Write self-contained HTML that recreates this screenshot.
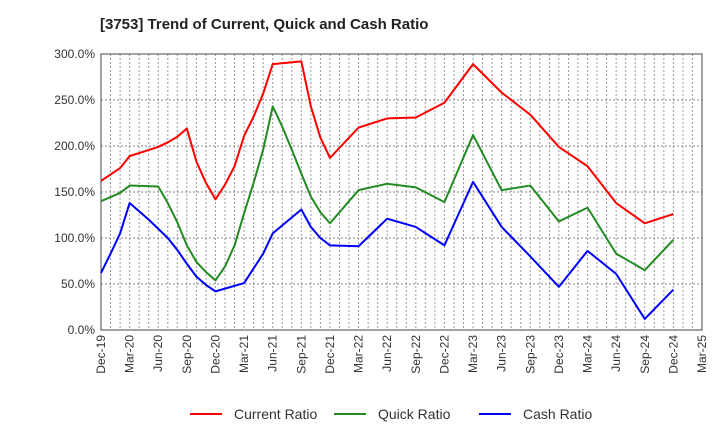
<!DOCTYPE html>
<html><head><meta charset="utf-8"><style>
body{margin:0;background:#fff;font-family:"Liberation Sans",sans-serif}
</style></head><body>
<svg id="chart" width="720" height="440" xmlns="http://www.w3.org/2000/svg" font-family="Liberation Sans, sans-serif">
<text x="100" y="29" font-size="15" font-weight="bold" fill="#222">[3753]  Trend of Current, Quick and Cash Ratio</text>
<g id="grid"></g><g id="axes"></g><g id="series"></g><g id="legend"></g>
</svg>
<script>
const xTickLabels=["Dec-19","Mar-20","Jun-20","Sep-20","Dec-20","Mar-21","Jun-21","Sep-21","Dec-21","Mar-22","Jun-22","Sep-22","Dec-22","Mar-23","Jun-23","Sep-23","Dec-23","Mar-24","Jun-24","Sep-24","Dec-24","Mar-25"];
const yTicks=[0,50,100,150,200,250,300];
const currentMonths=[0,2,3,6,7,8,9,10,11,12,13,14,15,16,17,18,21,22,23,24,27,30,33,36,39,42,45,48,51,54,57,60];
const currentValues=[162,176,189,199,204,210,219,183,160,142,158,178,211,232,257,289,292,243,209,187,220,230,231,247,289,258,234,199,178,138,116,126];
const quickMonths=[0,2,3,6,7,8,9,10,11,12,13,14,15,16,17,18,19,20,21,22,23,24,27,30,33,36,39,42,45,48,51,54,57,60];
const quickValues=[140,149,157,156,138,117,92,74,63,54,69,92,127,160,196,243,221,196,170,145,128,116,152,159,155,139,212,152,157,118,133,83,65,98];
const cashMonths=[0,1,2,3,5,7,8,9,10,11,12,15,17,18,21,22,23,24,27,30,33,36,39,42,45,48,51,54,57,60];
const cashValues=[62,83,105,138,120,100,87,72,58,49,42,51,83,105,131,112,100,92,91,121,112,92,161,112,80,47,86,61,12,44];
const L=101,R=702,T=54,B=330,NM=63;
const xs=m=>L+m*(R-L)/NM, ys=v=>B-v*(B-T)/300;
const NS="http://www.w3.org/2000/svg";
function mk(t,a,p){const e=document.createElementNS(NS,t);for(const k in a)e.setAttribute(k,a[k]);p.appendChild(e);return e;}
const grid=document.getElementById('grid'),axes=document.getElementById('axes'),ser=document.getElementById('series'),leg=document.getElementById('legend');
for(let m=1;m<NM;m++){const l=mk('line',{x1:xs(m),x2:xs(m),y1:T,y2:B,stroke:'#999','stroke-dasharray':'2,2','stroke-width':1},grid);

}
yTicks.forEach(v=>{if(v>0&&v<300){const l=mk('line',{x1:L,x2:R,y1:ys(v),y2:ys(v),stroke:'#888','stroke-dasharray':'2,2','stroke-width':1},grid);

}
const t=mk('text',{x:L-6,y:ys(v)+4,'text-anchor':'end','font-size':12,fill:'#333'},axes);t.textContent=v.toFixed(1)+'%';

});
const box=mk('rect',{x:L,y:T,width:R-L,height:B-T,fill:'none',stroke:'#444','stroke-width':1},axes);


xTickLabels.forEach((s,i)=>{const x=xs(i*3);const t=mk('text',{x:0,y:0,'text-anchor':'end','font-size':12,fill:'#333',transform:`translate(${x+4},${B+5}) rotate(-90)`},axes);t.textContent=s;

});
function line(ms,vs,c,name){const p=mk('polyline',{points:ms.map((m,i)=>xs(m)+','+ys(vs[i])).join(' '),fill:'none',stroke:c,'stroke-width':2,'stroke-linejoin':'round'},ser);

}
line(currentMonths,currentValues,'#ff0000','current-ratio-line');
line(quickMonths,quickValues,'#228b22','quick-ratio-line');
line(cashMonths,cashValues,'#0000ff','cash-ratio-line');
[["Current Ratio","#ff0000",190],["Quick Ratio","#228b22",334],["Cash Ratio","#0000ff",479]].forEach(([n,c,x])=>{
const g=mk('g',{},leg);


mk('line',{x1:x,x2:x+32,y1:414,y2:414,stroke:c,'stroke-width':2},g);
const t=mk('text',{x:x+44,y:419,'font-size':14,fill:'#333'},g);t.textContent=n;});
</script>
</body></html>
